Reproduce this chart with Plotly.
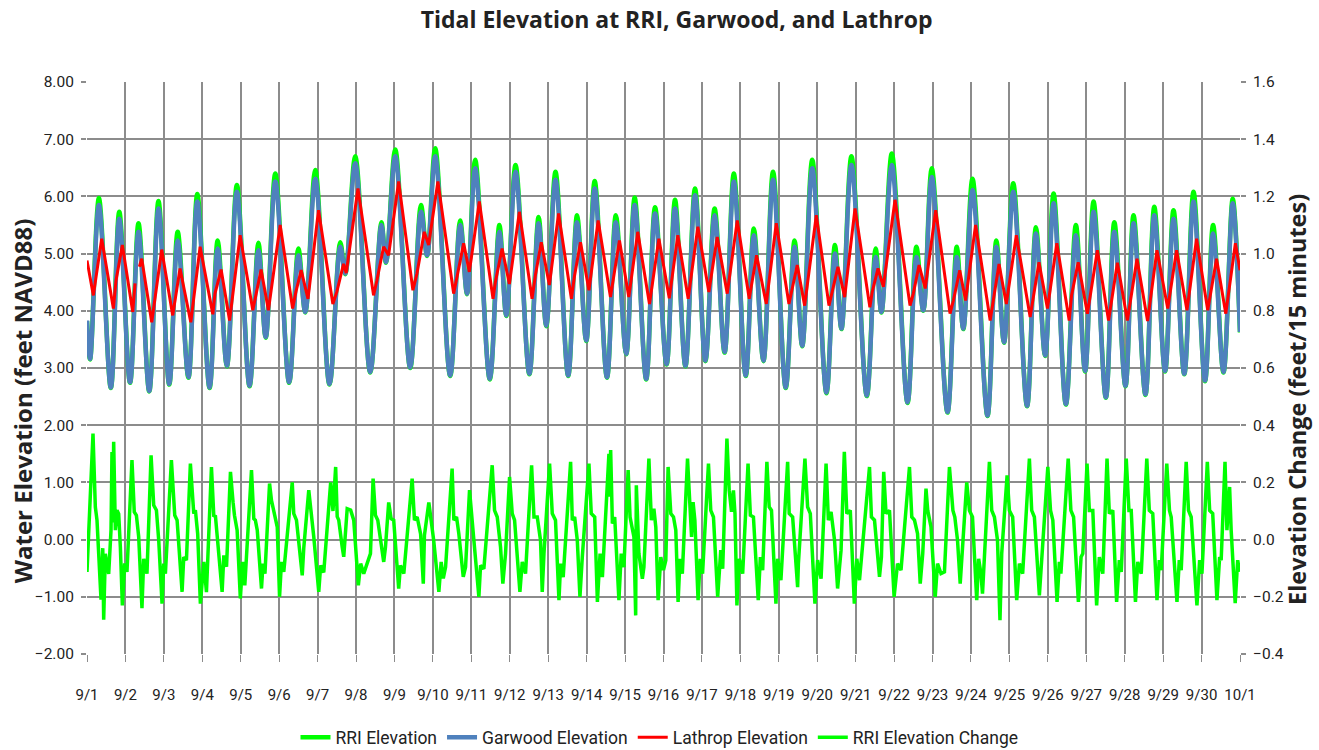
import plotly.graph_objects as go

# ---------------- data (days since 9/1 00:00) ----------------
date_labels = ["9/1", "9/2", "9/3", "9/4", "9/5", "9/6", "9/7", "9/8", "9/9", "9/10",
               "9/11", "9/12", "9/13", "9/14", "9/15", "9/16", "9/17", "9/18", "9/19", "9/20",
               "9/21", "9/22", "9/23", "9/24", "9/25", "9/26", "9/27", "9/28", "9/29", "9/30", "10/1"]
date_ticks = list(range(31))

# tidal turning points (RRI and Garwood share timing)
tide_days = [0.00, 0.08, 0.31, 0.62, 0.84, 1.12, 1.34, 1.62, 1.86, 2.14,
             2.36, 2.64, 2.87, 3.19, 3.40, 3.64, 3.90, 4.23, 4.46, 4.65,
             4.90, 5.26, 5.50, 5.68, 5.94, 6.31, 6.59, 6.72, 6.98, 7.37,
             7.66, 7.78, 8.02, 8.41, 8.69, 8.85, 9.06, 9.45, 9.71, 9.89,
             10.10, 10.48, 10.73, 10.91, 11.15, 11.51, 11.75, 11.95, 12.19, 12.52,
             12.75, 12.99, 13.21, 13.53, 13.76, 14.03, 14.25, 14.55, 14.78, 15.08,
             15.30, 15.57, 15.82, 16.09, 16.33, 16.59, 16.83, 17.14, 17.35, 17.60,
             17.85, 18.18, 18.41, 18.61, 18.87, 19.24, 19.46, 19.63, 19.89, 20.29,
             20.52, 20.67, 20.94, 21.35, 21.58, 21.76, 21.98, 22.39, 22.63, 22.80,
             23.04, 23.43, 23.66, 23.86, 24.10, 24.46, 24.69, 24.93, 25.15, 25.47,
             25.73, 25.97, 26.19, 26.51, 26.73, 27.02, 27.23, 27.54, 27.77, 28.05,
             28.27, 28.55, 28.79, 29.09, 29.30, 29.57, 29.81, 30.00]

garwood_ft = [3.83, 3.16, 5.85, 2.66, 5.61, 2.75, 5.38, 2.60, 5.79, 2.72,
              5.23, 2.84, 5.91, 2.66, 5.09, 3.04, 6.08, 2.69, 5.06, 3.54,
              6.26, 2.75, 4.97, 3.98, 6.31, 2.72, 5.12, 4.65, 6.58, 2.93,
              5.50, 4.85, 6.70, 3.01, 5.73, 4.97, 6.70, 2.87, 5.50, 4.30,
              6.49, 2.81, 5.38, 3.92, 6.43, 2.90, 5.53, 3.74, 6.29, 2.87,
              5.55, 3.48, 6.14, 2.84, 5.55, 3.25, 5.85, 2.81, 5.70, 3.07,
              5.79, 3.04, 6.02, 3.13, 5.67, 3.28, 6.26, 2.87, 5.32, 3.13,
              6.29, 2.66, 5.12, 3.39, 6.49, 2.57, 5.00, 3.69, 6.55, 2.52,
              4.94, 3.98, 6.55, 2.40, 4.94, 4.01, 6.34, 2.23, 4.94, 3.69,
              6.11, 2.17, 5.12, 3.45, 6.08, 2.34, 5.35, 3.22, 5.88, 2.37,
              5.32, 2.95, 5.73, 2.49, 5.38, 2.69, 5.53, 2.54, 5.67, 2.95,
              5.61, 2.90, 5.91, 2.78, 5.35, 2.93, 5.88, 3.63]

rri_ft = [3.82, 3.15, 5.97, 2.65, 5.73, 2.74, 5.53, 2.59, 5.92, 2.71,
          5.38, 2.83, 6.04, 2.65, 5.23, 3.03, 6.20, 2.68, 5.19, 3.53,
          6.40, 2.74, 5.09, 3.97, 6.46, 2.71, 5.20, 4.64, 6.70, 2.92,
          5.55, 4.84, 6.82, 3.00, 5.85, 4.96, 6.84, 2.86, 5.58, 4.29,
          6.64, 2.80, 5.50, 3.91, 6.55, 2.89, 5.64, 3.73, 6.43, 2.86,
          5.67, 3.47, 6.27, 2.83, 5.67, 3.24, 5.98, 2.80, 5.81, 3.06,
          5.94, 3.03, 6.14, 3.12, 5.79, 3.27, 6.40, 2.86, 5.44, 3.12,
          6.43, 2.65, 5.23, 3.38, 6.64, 2.56, 5.15, 3.68, 6.70, 2.51,
          5.09, 3.97, 6.75, 2.39, 5.12, 4.00, 6.49, 2.22, 5.12, 3.68,
          6.31, 2.16, 5.23, 3.44, 6.23, 2.33, 5.46, 3.21, 6.05, 2.36,
          5.50, 2.94, 5.91, 2.48, 5.55, 2.68, 5.67, 2.53, 5.82, 2.94,
          5.76, 2.89, 6.08, 2.77, 5.50, 2.92, 5.96, 3.62]

lathrop_days = [0.00, 0.165, 0.382, 0.686, 0.755, 0.92, 1.19, 1.25, 1.30, 1.363,
                1.424, 1.684, 1.944, 2.23, 2.42, 2.70, 2.943, 3.273, 3.33, 3.49,
                3.71, 3.984, 4.314, 4.53, 4.72, 5.026, 5.35, 5.435, 5.573, 5.75,
                6.024, 6.397, 6.50, 6.675, 6.745, 7.05, 7.456, 7.543, 7.717, 7.847,
                8.108, 8.48, 8.585, 8.776, 8.889, 9.13, 9.54, 9.627, 9.80, 9.948,
                10.208, 10.564, 10.625, 10.80, 10.99, 11.25, 11.58, 11.667, 11.82, 12.03,
                12.27, 12.604, 12.68, 12.84, 13.06, 13.30, 13.62, 13.854, 14.097, 14.33,
                14.635, 14.88, 15.15, 15.373, 15.642, 15.894, 16.18, 16.398, 16.658, 16.92,
                17.23, 17.422, 17.674, 17.934, 18.264, 18.48, 18.672, 18.976, 19.306, 19.54,
                19.714, 19.983, 20.37, 20.43, 20.582, 20.72, 21.024, 21.415, 21.50, 21.65,
                21.81, 22.083, 22.456, 22.543, 22.708, 22.86, 23.12, 23.50, 23.58, 23.73,
                23.92, 24.18, 24.54, 24.62, 24.77, 24.99, 25.234, 25.556, 25.617, 25.79,
                26.03, 26.29, 26.58, 26.81, 27.07, 27.32, 27.595, 27.84, 28.12, 28.35,
                28.62, 28.87, 29.16, 29.39, 29.63, 29.88, 30.00]

lathrop_ft = [4.88, 4.27, 5.26, 4.04, 4.53, 5.15, 3.98, 4.48, None, 4.77,
              4.91, 3.80, 5.07, 3.92, 4.74, 3.80, 5.12, 3.94, 4.30, 4.72,
              3.83, 5.32, 4.01, 4.72, 4.01, 5.50, 4.04, 4.33, 4.71, 4.21,
              5.76, 4.12, 4.33, 4.82, 4.66, 6.14, 4.27, 4.53, 5.12, 4.97,
              6.26, 4.36, 4.65, 5.38, 5.15, 6.26, 4.30, 4.59, 5.18, 4.68,
              5.91, 4.21, 4.50, 5.09, 4.47, 5.73, 4.21, 4.62, 5.20, 4.45,
              5.70, 4.21, 4.59, 5.20, 4.36, 5.58, 4.24, 5.23, 4.24, 5.38,
              4.12, 5.26, 4.22, 5.32, 4.21, 5.47, 4.33, 5.29, 4.30, 5.58,
              4.21, 4.97, 4.12, 5.53, 4.12, 4.80, 4.09, 5.67, 4.09, 4.77,
              4.24, 5.79, 4.06, 4.33, 4.74, 4.42, 5.94, 4.09, 4.30, 4.80,
              4.39, 5.76, 3.95, 4.18, 4.71, 4.18, 5.50, 3.83, 4.18, 4.82,
              4.12, 5.32, 3.89, 4.24, 4.85, 4.04, 5.18, 3.83, 4.27, 4.85,
              3.95, 5.06, 3.83, 4.84, 3.83, 4.91, 3.82, 5.06, 4.04, 5.06,
              4.01, 5.26, 4.01, 4.91, 3.95, 5.18, 4.71]

change_days = [0.00, 0.156, 0.217, 0.26, 0.365, 0.41, 0.434, 0.477, 0.564, 0.625,
               0.65, 0.67, 0.694, 0.738, 0.78, 0.825, 0.868, 0.92, 0.98, 1.04,
               1.17, 1.23, 1.285, 1.345, 1.43, 1.476, 1.56, 1.667, 1.736, 1.806,
               1.866, 1.953, 1.997, 2.04, 2.196, 2.283, 2.344, 2.474, 2.517, 2.587,
               2.69, 2.778, 2.82, 2.88, 2.95, 3.04, 3.108, 3.238, 3.30, 3.34,
               3.516, 3.56, 3.63, 3.733, 3.80, 3.837, 3.906, 3.99, 4.05, 4.106,
               4.28, 4.34, 4.38, 4.43, 4.54, 4.58, 4.63, 4.75, 4.80, 4.86,
               4.95, 5.01, 5.06, 5.12, 5.34, 5.38, 5.45, 5.60, 5.64, 5.77,
               5.83, 5.90, 6.03, 6.08, 6.16, 6.34, 6.40, 6.47, 6.51, 6.55,
               6.64, 6.68, 6.77, 6.86, 6.94, 7.06, 7.12, 7.20, 7.375, 7.444,
               7.505, 7.566, 7.72, 7.766, 7.85, 7.913, 7.98, 8.11, 8.156, 8.243,
               8.46, 8.52, 8.59, 8.68, 8.75, 8.78, 8.894, 8.94, 9.02, 9.155,
               9.215, 9.27, 9.33, 9.50, 9.545, 9.615, 9.675, 9.79, 9.85, 9.953,
               10.005, 10.066, 10.196, 10.24, 10.326, 10.543, 10.604, 10.674, 10.76, 10.82,
               10.89, 10.995, 11.064, 11.125, 11.264, 11.325, 11.41, 11.568, 11.63, 11.715,
               11.80, 11.845, 11.89, 12.036, 12.106, 12.19, 12.28, 12.323, 12.39, 12.583,
               12.627, 12.688, 12.757, 12.826, 12.887, 13.06, 13.12, 13.21, 13.28, 13.35,
               13.41, 13.58, 13.60, 13.625, 13.67, 13.73, 13.84, 13.90, 13.97, 14.08,
               14.13, 14.23, 14.276, 14.293, 14.36, 14.45, 14.49, 14.62, 14.684, 14.75,
               14.80, 14.86, 14.93, 15.00, 15.06, 15.12, 15.19, 15.26, 15.32, 15.38,
               15.43, 15.49, 15.625, 15.69, 15.73, 15.77, 15.816, 15.90, 15.955, 16.016,
               16.17, 16.23, 16.30, 16.41, 16.49, 16.54, 16.65, 16.71, 16.77, 16.82,
               16.86, 16.91, 16.97, 17.06, 17.20, 17.26, 17.34, 17.465, 17.52, 17.58,
               17.69, 17.75, 17.81, 17.925, 17.97, 18.055, 18.23, 18.27, 18.36, 18.49,
               18.51, 18.68, 18.75, 18.82, 18.94, 19.01, 19.10, 19.23, 19.29, 19.36,
               19.45, 19.53, 19.62, 19.705, 19.77, 19.86, 19.965, 20.03, 20.10, 20.36,
               20.41, 20.49, 20.62, 20.67, 20.73, 20.79, 20.88, 21.00, 21.09, 21.18,
               21.40, 21.46, 21.53, 21.61, 21.68, 21.745, 21.83, 21.875, 21.96, 22.07,
               22.13, 22.22, 22.31, 22.44, 22.53, 22.58, 22.65, 22.72, 22.78, 22.89,
               22.96, 23.04, 23.15, 23.20, 23.26, 23.30, 23.48, 23.54, 23.61, 23.69,
               23.755, 23.80, 23.94, 24.00, 24.085, 24.19, 24.26, 24.345, 24.52, 24.58,
               24.65, 24.78, 24.84, 25.00, 25.07, 25.13, 25.24, 25.30, 25.34, 25.53,
               25.60, 25.67, 25.795, 25.865, 25.91, 26.02, 26.08, 26.17, 26.27, 26.34,
               26.43, 26.54, 26.60, 26.69, 26.79, 26.86, 26.91, 27.04, 27.11, 27.17,
               27.28, 27.34, 27.43, 27.575, 27.64, 27.73, 27.84, 27.90, 27.95, 28.095,
               28.165, 28.21, 28.36, 28.42, 28.47, 28.60, 28.66, 28.73, 28.88, 28.95,
               29.01, 29.15, 29.21, 29.29, 29.40, 29.47, 29.51, 29.61, 29.66, 29.73,
               29.77, 29.875, 29.94, 29.99]

change_ft = [-0.113, 0.371, 0.114, 0.068, -0.21, -0.03, -0.28, -0.05, -0.12, 0.033,
             0.306, 0.06, 0.342, 0.033, 0.103, 0.09, -0.026, -0.23, -0.083, -0.113,
             0.278, 0.097, 0.085, 0.01, -0.24, -0.067, -0.119, 0.295, 0.12, 0.103,
             -0.002, -0.224, -0.084, -0.119, 0.278, 0.085, 0.068, -0.183, -0.061, -0.072,
             0.266, 0.091, 0.103, 0.02, -0.224, -0.078, -0.184, 0.254, 0.08, 0.085,
             -0.183, -0.055, -0.095, 0.237, 0.131, 0.085, 0.033, -0.206, -0.078, -0.16,
             0.243, 0.073, 0.068, 0.033, -0.171, -0.084, -0.119, 0.196, 0.137, 0.103,
             0.044, -0.20, -0.078, -0.113, 0.20, 0.091, 0.068, -0.125, -0.03, 0.173,
             0.103, 0.01, -0.183, -0.09, -0.115, 0.20, 0.10, 0.254, 0.08, 0.068,
             -0.026, -0.06, 0.108, 0.103, 0.068, -0.16, -0.084, -0.119, -0.049, 0.213,
             0.085, 0.068, -0.078, -0.026, 0.13, 0.073, 0.068, -0.171, -0.090, -0.119,
             0.213, 0.068, 0.079, 0.02, -0.154, 0.015, 0.13, 0.079, -0.002, -0.183,
             -0.078, -0.136, -0.096, 0.248, 0.068, 0.079, 0.02, -0.130, -0.096, 0.173,
             0.079, -0.002, -0.20, -0.090, -0.102, 0.26, 0.102, 0.079, -0.026, -0.154,
             -0.049, 0.219, 0.091, 0.068, -0.183, -0.078, -0.119, 0.26, 0.079, 0.079,
             -0.002, -0.183, -0.049, 0.266, 0.091, 0.068, -0.212, -0.084, -0.131, 0.272,
             0.068, 0.079, -0.002, -0.20, -0.061, 0.266, 0.091, 0.079, -0.218, -0.049,
             -0.131, 0.30, 0.15, 0.313, 0.056, 0.079, -0.212, -0.049, -0.096, 0.243,
             0.079, 0.009, -0.265, 0.19, -0.049, -0.137, -0.096, 0.283, 0.068, 0.108,
             0.044, -0.212, -0.061, -0.107, -0.072, 0.254, 0.091, 0.079, 0.033, -0.218,
             -0.067, -0.119, 0.283, 0.126, 0.009, 0.131, 0.068, -0.212, -0.067, -0.119,
             0.266, 0.102, 0.079, -0.20, -0.037, -0.102, 0.353, 0.172, 0.097, 0.172,
             0.091, -0.230, -0.067, -0.119, 0.266, 0.085, 0.079, -0.212, -0.061, -0.107,
             0.272, 0.114, 0.102, -0.224, -0.067, -0.142, 0.272, 0.091, 0.079, -0.166,
             -0.084, 0.283, 0.114, 0.091, -0.224, -0.072, -0.137, 0.266, 0.068, 0.097,
             -0.002, -0.171, -0.037, 0.307, 0.091, 0.102, -0.224, -0.067, -0.142, 0.254,
             0.079, 0.068, -0.130, -0.061, 0.237, 0.091, 0.102, -0.20, -0.084, -0.107,
             0.254, 0.079, 0.068, 0.021, -0.154, -0.049, 0.178, 0.102, 0.044, -0.20,
             -0.084, -0.119, -0.113, 0.254, 0.102, 0.079, -0.002, -0.154, -0.037, 0.20,
             0.102, 0.079, -0.212, -0.067, -0.119, -0.189, 0.272, 0.102, 0.079, -0.002,
             -0.282, -0.049, 0.225, 0.102, 0.079, -0.212, -0.084, -0.119, 0.283, 0.102,
             0.079, -0.195, -0.072, 0.254, 0.102, 0.068, -0.218, -0.078, -0.119, 0.283,
             0.102, 0.079, -0.218, -0.061, -0.049, 0.266, 0.102, 0.102, -0.230, -0.061,
             -0.119, 0.283, 0.091, 0.102, -0.218, -0.072, -0.113, 0.283, 0.102, 0.102,
             -0.218, -0.078, -0.119, 0.283, 0.102, 0.091, -0.212, -0.072, -0.107, 0.266,
             0.102, 0.079, -0.218, -0.072, -0.107, 0.272, 0.102, 0.079, -0.230, -0.072,
             -0.119, 0.272, 0.102, 0.091, -0.212, -0.061, -0.072, 0.272, 0.033, 0.184,
             0.033, -0.222, -0.072, -0.113]

# ---------------- styling ----------------
GREEN = "#00FF00"
BLUE = "#4F81BD"
RED = "#FF0000"
GRID = "#8C8C8C"
TXT = "#222222"
NARROW = "Liberation Sans Narrow, Arial Narrow, Roboto, sans-serif"
BOLD = "Open Sans, Lato, sans-serif"

fig = go.Figure()
fig.add_trace(go.Scatter(x=tide_days, y=rri_ft, name="RRI Elevation", mode="lines",
                         line=dict(color=GREEN, width=4.5, shape="spline", smoothing=1.0)))
fig.add_trace(go.Scatter(x=tide_days, y=garwood_ft, name="Garwood Elevation", mode="lines",
                         line=dict(color=BLUE, width=4.5, shape="spline", smoothing=1.0)))
fig.add_trace(go.Scatter(x=lathrop_days, y=lathrop_ft, name="Lathrop Elevation", mode="lines",
                         line=dict(color=RED, width=3), connectgaps=False))
fig.add_trace(go.Scatter(x=change_days, y=change_ft, name="RRI Elevation Change", mode="lines",
                         yaxis="y2", line=dict(color=GREEN, width=3.5)))

fig.update_layout(
    width=1319, height=750,
    paper_bgcolor="white", plot_bgcolor="white",
    margin=dict(l=87, r=79, t=82, b=96, autoexpand=False),
    title=dict(text="<b>Tidal Elevation at RRI, Garwood, and Lathrop</b>",
               x=0.513, xanchor="center", y=0.973, yanchor="middle",
               font=dict(family=BOLD, size=23, color=TXT)),
    xaxis=dict(range=[0, 30], tickvals=date_ticks, ticktext=date_labels, automargin=False,
               showgrid=True, gridcolor=GRID, gridwidth=1.5, zeroline=False,
               ticks="outside", ticklen=7, tickcolor=GRID, ticklabelstandoff=20,
               tickfont=dict(family=NARROW, size=15, color=TXT)),
    yaxis=dict(range=[-2, 8], dtick=1, tickformat=".2f", automargin=False,
               showgrid=True, gridcolor=GRID, gridwidth=2, zeroline=False,
               ticks="outside", ticklen=5, tickcolor=GRID, tickwidth=1.5,
               ticklabelstandoff=4,
               tickfont=dict(family=NARROW, size=15.5, color=TXT)),
    yaxis2=dict(range=[-0.4, 1.6], dtick=0.2, tickformat=".1f", overlaying="y",
                side="right", showgrid=False, zeroline=False, automargin=False,
                ticks="outside", ticklen=5, tickcolor=GRID, tickwidth=1.5,
                ticklabelstandoff=4,
                tickfont=dict(family=NARROW, size=15.5, color=TXT)),
    legend=dict(orientation="h", xref="container", x=0.5, xanchor="center",
                yref="container", y=0.017, yanchor="middle",
                font=dict(family=NARROW, size=17.5, color=TXT), itemwidth=30,
                traceorder="normal"),
    showlegend=True,
    annotations=[
        dict(text="<b>Water Elevation (feet NAVD88)</b>", textangle=-90,
             xref="paper", yref="paper", x=(22 - 87) / 1153, y=0.442,
             xanchor="center", yanchor="middle", showarrow=False,
             font=dict(family=BOLD, size=24, color=TXT)),
        dict(text="<b>Elevation Change (feet/15 minutes)</b>", textangle=-90,
             xref="paper", yref="paper", x=(1297 - 87) / 1153, y=0.444,
             xanchor="center", yanchor="middle", showarrow=False,
             font=dict(family=BOLD, size=23.5, color=TXT)),
    ],
)

fig.write_html("out.html", config={"displayModeBar": False},
               post_script="document.body.style.margin='0';document.body.style.padding='0';")
